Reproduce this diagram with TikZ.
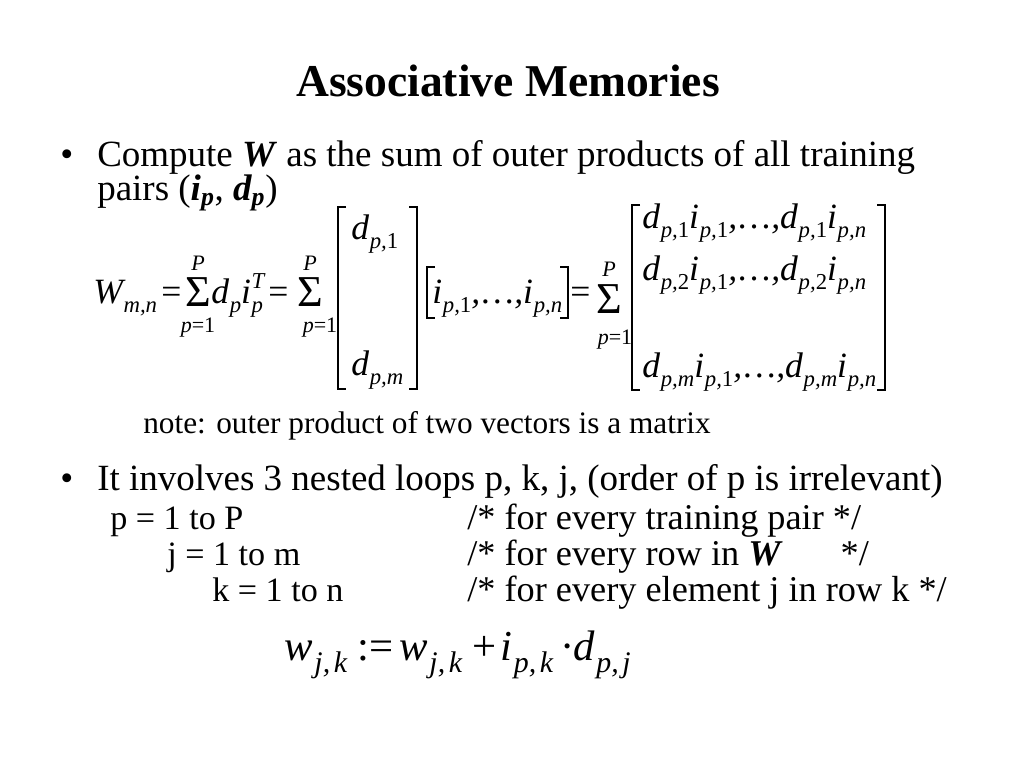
\documentclass[tikz,border=0pt]{standalone}
\usepackage{fontspec}
\setmainfont{Liberation Serif}

\newcommand\sub[1]{\kern0.02em\raisebox{-0.28em}{\scalebox{0.64}{#1}}}
\newcommand\bsub[2]{\kern0.04em\raisebox{-0.3em}{\scalebox{0.7}{#1,\kern0.12em#2}}}
\newcommand\subsup[2]{\kern0.02em\rlap{\raisebox{0.42em}{\scalebox{0.64}{#2}}}\raisebox{-0.28em}{\scalebox{0.64}{#1}}}
\newcommand\up[1]{\textup{#1}}
\newcommand\dotsx{,\kern-0.02em\textup{…}\kern-0.02em,}

\tikzset{
  txt/.style={anchor=base west, inner sep=0pt, font=\fontsize{26}{30}\selectfont},
  code/.style={txt, font=\fontsize{24}{28}\selectfont},
  cmt/.style={txt, font=\fontsize{25.5}{30}\selectfont},
  note/.style={txt, font=\fontsize{22}{26}\selectfont},
  eqn/.style={anchor=base west, inner sep=0pt, font=\fontsize{25}{30}\selectfont\itshape},
  eqr/.style={anchor=base west, inner sep=0pt, font=\fontsize{25}{30}\selectfont},
  big/.style={font=\fontsize{30}{34}\selectfont\itshape},
  bigr/.style={font=\fontsize{30}{34}\selectfont},
  sig/.style={inner sep=0pt, font=\fontsize{31}{34}\selectfont},
  lim/.style={anchor=base, inner sep=0pt, font=\fontsize{15.5}{18}\selectfont\itshape},
  brk/.style={line width=1.1pt}
}

\begin{document}
\begin{tikzpicture}[x=0.703pt, y=-0.703pt]
  \useasboundingbox (0,0) rectangle (1024,768);
  \node[anchor=base, inner sep=0pt, font=\fontsize{32}{36}\selectfont\bfseries] (title) at (508,96) {Associative Memories};

  \node[txt] (b1) at (60,166) {\textbullet};
  \node[txt] (l1) at (97,166) {Compute \textbf{\textit{W}} as the sum of outer products of all training};
  \node[txt] (l2) at (97,200) {pairs (\textbf{\textit{i\textsubscript{p}}}, \textbf{\textit{d\textsubscript{p}}})};

  \node[eqn] (wmn) at (93,303) {W\sub{m,n}};
  \node[eqr] (eqA) at (161,303) {=};
  \node[sig] (sigA) at (198,292) {Σ};
  \node[lim] (topA) at (198,270) {P};
  \node[lim] (botA) at (198,332) {p\up{=1}};
  \node[eqn] (dpip) at (211,303) {d\sub{p}i\subsup{p}{T}};
  \node[eqr] (eqB) at (268,303) {=};
  \node[sig] (sigB) at (310,292) {Σ};
  \node[lim] (topB) at (310,270) {P};
  \node[lim] (botB) at (320,332) {p\up{=1}};

  \draw[brk] (346,207) -- (338,207) -- (338,389) -- (346,389);
  \draw[brk] (409,207) -- (417,207) -- (417,389) -- (409,389);
  \node[eqn] (d1) at (351,239) {d\sub{p,\up{1}}};
  \node[eqn] (dm) at (351,375) {d\sub{p,m}};

  \draw[brk] (435,267) -- (427,267) -- (427,318) -- (435,318);
  \node[eqn] (irow) at (432,303) {i\sub{p,\up{1}}\dotsx i\sub{p,n}};
  \draw[brk] (560,267) -- (568,267) -- (568,318) -- (560,318);

  \node[eqr] (eqC) at (570,303) {=};
  \node[sig] (sigC) at (609,299) {Σ};
  \node[lim] (topC) at (609,276) {P};
  \node[lim] (botC) at (615,344) {p\up{=1}};

  \draw[brk] (640,205) -- (632,205) -- (632,390) -- (640,390);
  \draw[brk] (877,205) -- (885,205) -- (885,390) -- (877,390);
  \node[eqn] (r1) at (642,228) {d\sub{p,\up{1}}i\sub{p,\up{1}}\dotsx d\sub{p,\up{1}}i\sub{p,n}};
  \node[eqn] (r2) at (642,280) {d\sub{p,\up{2}}i\sub{p,\up{1}}\dotsx d\sub{p,\up{2}}i\sub{p,n}};
  \node[eqn] (rm) at (642,377) {d\sub{p,m}i\sub{p,\up{1}}\dotsx d\sub{p,m}i\sub{p,n}};

  \node[note] (nt) at (143,433) {note: outer product of two vectors is a matrix};

  \node[txt] (b2) at (60,490) {\textbullet};
  \node[txt] (l3) at (97,490) {It involves 3 nested loops p, k, j, (order of p is irrelevant)};
  \node[code] (p1) at (110,529) {p = 1 to P};
  \node[code] (p2) at (167,565) {j = 1 to m};
  \node[code] (p3) at (212,601) {k = 1 to n};
  \node[cmt] (c1) at (467,529) {/* for every training pair */};
  \node[cmt] (c2) at (467,565) {/* for every row in \textbf{\textit{W}}\hspace{1.6em}*/};
  \node[cmt] (c3) at (467,601) {/* for every element j in row k */};

  \node[eqn, big] (wjk) at (284,660) {w\bsub{j}{k}};
  \node[eqr, bigr] (asg) at (357,660) {:=};
  \node[eqn, big] (wjk2) at (399,660) {w\bsub{j}{k}};
  \node[eqr, bigr] (pls) at (472,660) {+};
  \node[eqn, big] (ipk) at (500,660) {i\bsub{p}{k}};
  \node[eqr, bigr] (dot) at (560,660) {·};
  \node[eqn, big] (dpj) at (573,660) {d\bsub{p}{j}};
\end{tikzpicture}
\end{document}
